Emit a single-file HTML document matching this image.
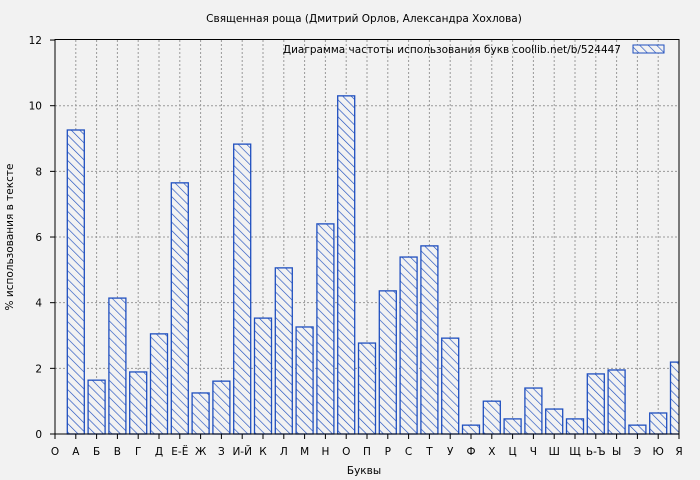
<!DOCTYPE html><html><head><meta charset="utf-8"><style>body{margin:0;background:#f2f2f2}svg{display:block}text{font-family:"DejaVu Sans","Liberation Sans",sans-serif;font-size:10.5px;fill:#000}</style></head><body>
<svg width="700" height="480" xmlns="http://www.w3.org/2000/svg">
<defs><pattern id="h" patternUnits="userSpaceOnUse" width="6" height="6" patternTransform="rotate(-45)"><rect width="6" height="6" fill="#f2f2f2"/><line x1="0" y1="0" x2="0" y2="6" stroke="#1f4fbf" stroke-width="1.3"/></pattern><clipPath id="c"><rect x="55" y="39" width="624" height="396"/></clipPath></defs>
<rect width="700" height="480" fill="#f2f2f2"/>
<g id="grid" stroke="#999" stroke-dasharray="2,2" stroke-width="1"></g>
<g id="bars" clip-path="url(#c)"></g>
<rect x="55" y="39.5" width="624" height="394.5" fill="none" stroke="#000" stroke-width="1"/>
<g id="ticks" stroke="#000"></g>
<g id="lab"></g>
<text x="364" y="22" text-anchor="middle">Священная роща (Дмитрий Орлов, Александра Хохлова)</text>
<text x="364" y="474" text-anchor="middle">Буквы</text>
<text transform="translate(13,237) rotate(-90)" text-anchor="middle">% использования в тексте</text>
<text x="621" y="53" text-anchor="end">Диаграмма частоты использования букв  coollib.net/b/524447</text>
<rect x="633" y="45" width="31" height="8" fill="url(#h)" stroke="#1f4fbf"/>
</svg>
<script>
var ns="http://www.w3.org/2000/svg",L=["О","А","Б","В","Г","Д","Е-Ё","Ж","З","И-Й","К","Л","М","Н","О","П","Р","С","Т","У","Ф","Х","Ц","Ч","Ш","Щ","Ь-Ъ","Ы","Э","Ю","Я"],
V=[0,9.26,1.64,4.14,1.89,3.05,7.65,1.25,1.61,8.83,3.53,5.06,3.26,6.40,10.3,2.77,4.36,5.39,5.73,2.92,0.27,1.0,0.46,1.4,0.76,0.46,1.83,1.95,0.27,0.64,2.19];
function e(t,a,p,tx){var n=document.createElementNS(ns,t);for(var k in a)n.setAttribute(k,a[k]);if(tx!==undefined)n.textContent=tx;document.getElementById(p).appendChild(n);}
var X=i=>55+i*20.8,Y=v=>434-v*32.83;
for(var i=1;i<30;i++)e("line",{x1:X(i),x2:X(i),y1:40,y2:434},"grid");
for(var v=2;v<12;v+=2)e("line",{x1:55,x2:679,y1:Y(v),y2:Y(v)},"grid");
for(var i=1;i<31;i++)e("rect",{x:X(i)-8.5,y:Y(V[i]),width:17,height:V[i]*32.83,fill:"url(#h)",stroke:"#1f4fbf","stroke-width":1.3},"bars");
for(var i=0;i<31;i++){e("line",{x1:X(i),x2:X(i),y1:434,y2:439},"ticks");e("text",{x:X(i),y:455,"text-anchor":"middle"},"lab",L[i]);}
for(var v=0;v<=12;v+=2){e("line",{x1:50,x2:55,y1:Y(v),y2:Y(v)},"ticks");e("text",{x:42,y:Y(v)+4,"text-anchor":"end"},"lab",v);}
</script></body></html>
